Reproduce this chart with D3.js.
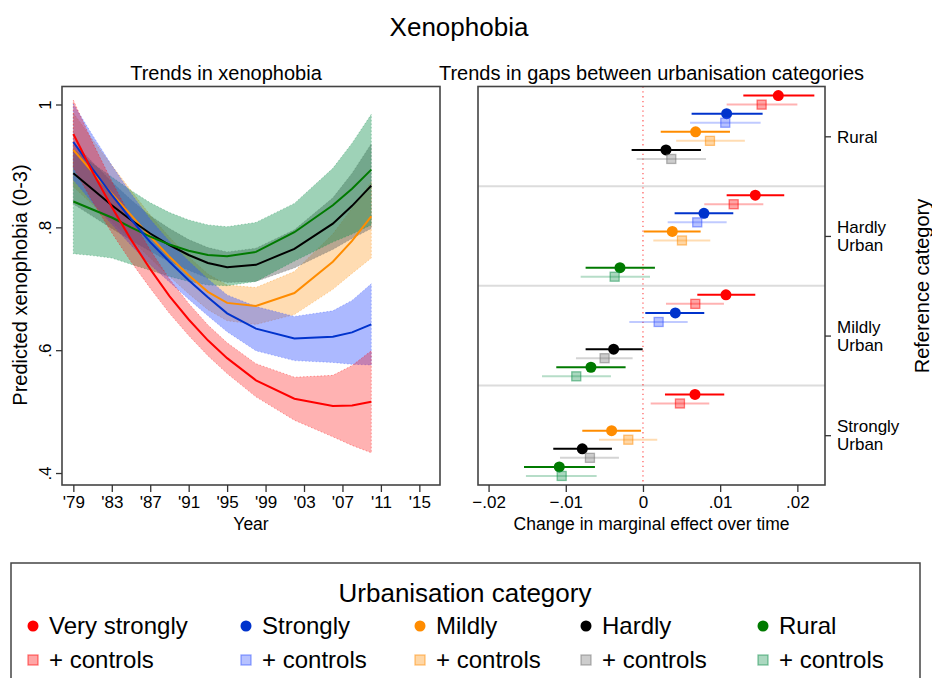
<!DOCTYPE html>
<html>
<head>
<meta charset="utf-8">
<script src="https://cdn.jsdelivr.net/npm/d3@7"></script>
<style>
  body { margin: 0; background: #fff; }
  svg text { font-family: "Liberation Sans", Arial, sans-serif; fill: #000; }
</style>
</head>
<body>
<svg width="932" height="678"></svg>
<script>
// ---- data: trends in xenophobia (predicted, 0-3 scale) ----
let years = [1979, 1981, 1983, 1985, 1987, 1989, 1991, 1993, 1995, 1998, 2002, 2006, 2008, 2010];
let yearTicks = [1979, 1983, 1987, 1991, 1995, 1999, 2003, 2007, 2011, 2015];
let levelTicks = [0.4, 0.6, 0.8, 1];

let vsMean = [0.952, 0.890, 0.833, 0.780, 0.732, 0.688, 0.650, 0.616, 0.587, 0.551, 0.521, 0.509, 0.510, 0.516];
let vsLo   = [0.897, 0.842, 0.791, 0.744, 0.701, 0.660, 0.624, 0.591, 0.562, 0.524, 0.486, 0.459, 0.445, 0.433];
let vsHi   = [1.007, 0.938, 0.875, 0.816, 0.763, 0.716, 0.676, 0.641, 0.612, 0.578, 0.556, 0.559, 0.575, 0.599];

let stMean = [0.939, 0.895, 0.853, 0.813, 0.776, 0.744, 0.714, 0.686, 0.660, 0.635, 0.619, 0.622, 0.629, 0.642];
let stLo   = [0.877, 0.840, 0.805, 0.771, 0.739, 0.711, 0.683, 0.656, 0.630, 0.599, 0.583, 0.580, 0.577, 0.576];
let stHi   = [1.001, 0.950, 0.901, 0.855, 0.813, 0.777, 0.745, 0.716, 0.690, 0.671, 0.655, 0.664, 0.681, 0.708];

let miMean = [0.926, 0.890, 0.855, 0.820, 0.785, 0.752, 0.722, 0.695, 0.677, 0.672, 0.693, 0.744, 0.778, 0.818];
let miLo   = [0.866, 0.837, 0.809, 0.780, 0.750, 0.720, 0.692, 0.666, 0.648, 0.642, 0.658, 0.699, 0.725, 0.750];
let miHi   = [0.986, 0.943, 0.901, 0.860, 0.820, 0.784, 0.752, 0.724, 0.706, 0.702, 0.728, 0.789, 0.831, 0.874];

let haMean = [0.888, 0.862, 0.836, 0.812, 0.790, 0.771, 0.755, 0.742, 0.735, 0.739, 0.765, 0.806, 0.835, 0.868];
let haLo   = [0.838, 0.818, 0.798, 0.779, 0.761, 0.744, 0.730, 0.717, 0.710, 0.712, 0.734, 0.764, 0.782, 0.798];
let haHi   = [0.938, 0.906, 0.874, 0.845, 0.819, 0.798, 0.780, 0.767, 0.760, 0.766, 0.796, 0.848, 0.888, 0.936];

let ruMean = [0.842, 0.829, 0.816, 0.800, 0.785, 0.772, 0.762, 0.755, 0.753, 0.760, 0.792, 0.836, 0.863, 0.894];
let ruLo   = [0.757, 0.754, 0.750, 0.740, 0.730, 0.720, 0.712, 0.706, 0.705, 0.712, 0.745, 0.776, 0.789, 0.804];
let ruHi   = [0.927, 0.904, 0.882, 0.860, 0.840, 0.824, 0.812, 0.804, 0.801, 0.808, 0.839, 0.896, 0.937, 0.984];

// ---- data: change in marginal effect over time (gaps vs reference category) ----
let seriesNames = ["Very strongly", "Strongly", "Mildly", "Hardly", "Rural"];
let gapGroups = ["Rural", "Hardly Urban", "Mildly Urban", "Strongly Urban"];
let gapTicks = [-0.02, -0.01, 0, 0.01, 0.02];

// rows = reference category, columns = series (null = the reference itself)
let gapBase = [
  [0.01753, 0.01084, 0.00682, 0.00298, null],
  [0.01455, 0.00790, 0.00380, null, -0.00298],
  [0.01075, 0.00419, null, -0.00380, -0.00674],
  [0.00674, null, -0.00406, -0.00786, -0.01084]
];
let gapBaseLo = [
  [0.01300, 0.00630, 0.00230, -0.00147, null],
  [0.01084, 0.00410, 0.00010, null, -0.00743],
  [0.00704, 0.00030, null, -0.00743, -0.01123],
  [0.00285, null, -0.00786, -0.01162, -0.01541]
];
let gapBaseHi = [
  [0.02220, 0.01550, 0.01127, 0.00751, null],
  [0.01830, 0.01170, 0.00747, null, 0.00155],
  [0.01455, 0.00794, null, -0.00004, -0.00225],
  [0.01053, null, -0.00026, -0.00402, -0.00622]
];
let gapCtrl = [
  [0.01537, 0.01066, 0.00868, 0.00367, null],
  [0.01175, 0.00703, 0.00505, null, -0.00367],
  [0.00678, 0.00203, null, -0.00497, -0.00864],
  [0.00479, null, -0.00190, -0.00687, -0.01053]
];
let gapCtrlLo = [
  [0.01084, 0.00610, 0.00430, -0.00082, null],
  [0.00794, 0.00320, 0.00134, null, -0.00807],
  [0.00298, -0.00177, null, -0.00868, -0.01308],
  [0.00100, null, -0.00570, -0.01075, -0.01516]
];
let gapCtrlHi = [
  [0.02000, 0.01524, 0.01320, 0.00816, null],
  [0.01559, 0.01084, 0.00872, null, 0.00091],
  [0.01049, 0.00579, null, -0.00134, -0.00415],
  [0.00859, null, 0.00185, -0.00311, -0.00600]
];

// ---- styles ----
let lineColors = ["#ff0000", "#0033cc", "#ff8c00", "#000000", "#007a00"];
let bandColors = ["#ff0000", "#3050ff", "#ff8c00", "#707070", "#0d8f4a"];
let bandOpacity = [0.3, 0.4, 0.3, 0.5, 0.4];
let bandOrder = [2, 3, 4, 1, 0];

let svg = d3.select("svg");
svg.append("rect").attr("width", 932).attr("height", 678).attr("fill", "#fff");

svg.append("text")
    .attr("x", 459).attr("y", 36)
    .attr("text-anchor", "middle")
    .style("font-size", "26px")
    .text("Xenophobia");

function styleAxis(g, size) {
  g.attr("font-family", null).attr("font-size", null);
  g.select(".domain").remove();
  g.selectAll(".tick line").attr("stroke", "#333").attr("stroke-width", 1.3);
  g.selectAll(".tick text").attr("fill", "#000").style("font-size", size + "px");
}

// ================= left panel =================
let L = {left: 62, right: 440, top: 86.5, bottom: 485};

let x = d3.scaleLinear().domain([1977.82, 2017.15]).range([L.left, L.right]);
let y = d3.scaleLinear().domain([0.3805, 1.0293]).range([L.bottom, L.top]);

let series = [
  {mean: vsMean, lo: vsLo, hi: vsHi},
  {mean: stMean, lo: stLo, hi: stHi},
  {mean: miMean, lo: miLo, hi: miHi},
  {mean: haMean, lo: haLo, hi: haHi},
  {mean: ruMean, lo: ruLo, hi: ruHi}
];

let area = d3.area()
    .x(function(d, i) { return x(years[i]); })
    .y0(function(d) { return y(d[0]); })
    .y1(function(d) { return y(d[1]); });

let line = d3.line()
    .x(function(d, i) { return x(years[i]); })
    .y(function(d) { return y(d); });

let gBands = svg.append("g");
bandOrder.forEach(function(k) {
  let s = series[k];
  let pts = years.map(function(yr, i) { return [s.lo[i], s.hi[i]]; });
  gBands.append("path")
      .attr("d", area(pts))
      .attr("fill", bandColors[k])
      .attr("fill-opacity", bandOpacity[k])
      .attr("stroke", bandColors[k])
      .attr("stroke-opacity", 0.35)
      .attr("stroke-width", 1)
      .attr("stroke-dasharray", "1.5,2");
});

let gLines = svg.append("g");
[2, 3, 4, 1, 0].forEach(function(k) {
  gLines.append("path")
      .attr("d", line(series[k].mean))
      .attr("fill", "none")
      .attr("stroke", lineColors[k])
      .attr("stroke-width", 2);
});

svg.append("rect")
    .attr("x", L.left).attr("y", L.top)
    .attr("width", L.right - L.left).attr("height", L.bottom - L.top)
    .attr("fill", "none").attr("stroke", "#444").attr("stroke-width", 1.6);

let xAxisL = d3.axisBottom(x)
    .tickValues(yearTicks)
    .tickFormat(function(d) { return "'" + String(d).slice(2); })
    .tickSize(7).tickPadding(4);
let gxL = svg.append("g").attr("transform", "translate(0," + L.bottom + ")").call(xAxisL);
styleAxis(gxL, 17);

let yAxisL = d3.axisLeft(y)
    .tickValues(levelTicks)
    .tickFormat(function(d) { return d === 1 ? "1" : d3.format(".1f")(d).replace(/^0/, ""); })
    .tickSize(6);
let gyL = svg.append("g").attr("transform", "translate(" + L.left + ",0)").call(yAxisL);
styleAxis(gyL, 17);
gyL.selectAll(".tick text")
    .attr("transform", "rotate(-90)")
    .attr("x", 0).attr("y", -11).attr("dy", null)
    .attr("text-anchor", "middle");

svg.append("text")
    .attr("transform", "translate(27,285) rotate(-90)")
    .attr("text-anchor", "middle")
    .style("font-size", "20px")
    .text("Predicted xenophobia (0-3)");

svg.append("text")
    .attr("x", (L.left + L.right) / 2).attr("y", 530)
    .attr("text-anchor", "middle")
    .style("font-size", "17.5px")
    .text("Year");

svg.append("text")
    .attr("x", 226).attr("y", 80)
    .attr("text-anchor", "middle")
    .style("font-size", "20px")
    .text("Trends in xenophobia");

// ================= right panel =================
let R = {left: 478, right: 825, top: 86.5, bottom: 485};

let xR = d3.scaleLinear().domain([-0.02137, 0.02358]).range([R.left, R.right]);
let slot = d3.scaleLinear().domain([-1, 43]).range([R.top, R.bottom]);

let gR = svg.append("g");

// separators between reference categories
gR.selectAll("line.sep")
    .data([10, 21, 32])
    .enter().append("line")
    .attr("x1", R.left).attr("x2", R.right)
    .attr("y1", function(d) { return slot(d); })
    .attr("y2", function(d) { return slot(d); })
    .attr("stroke", "#dcdcdc").attr("stroke-width", 2);

gR.append("line")
    .attr("x1", xR(0)).attr("x2", xR(0))
    .attr("y1", R.top).attr("y2", R.bottom)
    .attr("stroke", "#ff3030").attr("stroke-opacity", 0.75)
    .attr("stroke-width", 1.3).attr("stroke-dasharray", "1.3,3.5");

let rows = [];
gapGroups.forEach(function(gName, g) {
  seriesNames.forEach(function(sName, s) {
    if (gapBase[g][s] === null) return;
    rows.push({k: s, type: "base", v: gapBase[g][s], lo: gapBaseLo[g][s], hi: gapBaseHi[g][s], pos: g * 11 + 2 * s});
    rows.push({k: s, type: "ctrl", v: gapCtrl[g][s], lo: gapCtrlLo[g][s], hi: gapCtrlHi[g][s], pos: g * 11 + 2 * s + 1});
  });
});

gR.selectAll("line.ci")
    .data(rows)
    .enter().append("line")
    .attr("class", "ci")
    .attr("x1", function(d) { return xR(d.lo); })
    .attr("x2", function(d) { return xR(d.hi); })
    .attr("y1", function(d) { return slot(d.pos); })
    .attr("y2", function(d) { return slot(d.pos); })
    .attr("stroke", function(d) { return d.type === "base" ? lineColors[d.k] : bandColors[d.k]; })
    .attr("stroke-opacity", function(d) { return d.type === "base" ? 1 : 0.3; })
    .attr("stroke-width", 2);

gR.selectAll("circle.est")
    .data(rows.filter(function(d) { return d.type === "base"; }))
    .enter().append("circle")
    .attr("cx", function(d) { return xR(d.v); })
    .attr("cy", function(d) { return slot(d.pos); })
    .attr("r", 5.5)
    .attr("fill", function(d) { return lineColors[d.k]; });

gR.selectAll("rect.est")
    .data(rows.filter(function(d) { return d.type === "ctrl"; }))
    .enter().append("rect")
    .attr("x", function(d) { return xR(d.v) - 4.5; })
    .attr("y", function(d) { return slot(d.pos) - 4.5; })
    .attr("width", 9).attr("height", 9)
    .attr("fill", function(d) { return bandColors[d.k]; })
    .attr("fill-opacity", 0.35)
    .attr("stroke", function(d) { return bandColors[d.k]; })
    .attr("stroke-opacity", 0.5)
    .attr("stroke-width", 1.3);

svg.append("rect")
    .attr("x", R.left).attr("y", R.top)
    .attr("width", R.right - R.left).attr("height", R.bottom - R.top)
    .attr("fill", "none").attr("stroke", "#444").attr("stroke-width", 1.6);

let xAxisR = d3.axisBottom(xR)
    .tickValues(gapTicks)
    .tickFormat(function(d) { return d === 0 ? "0" : d3.format(".2f")(d).replace("0.", "."); })
    .tickSize(7).tickPadding(4);
let gxR = svg.append("g").attr("transform", "translate(0," + R.bottom + ")").call(xAxisR);
styleAxis(gxR, 17);

let groupPos = gapGroups.map(function(d, g) { return g * 11 + 4.5; });
let yAxisR = d3.axisRight(slot).tickValues(groupPos).tickFormat("").tickSize(6);
let gyR = svg.append("g").attr("transform", "translate(" + R.right + ",0)").call(yAxisR);
styleAxis(gyR, 17);

// group labels, two-word names wrapped on two lines
gapGroups.forEach(function(name, g) {
  let parts = name.split(" ");
  let yc = slot(groupPos[g]);
  let offsets = parts.length === 1 ? [6.5] : [-3, 15];
  parts.forEach(function(p, j) {
    svg.append("text")
        .attr("x", R.right + 12)
        .attr("y", yc + offsets[j])
        .style("font-size", "17px")
        .text(p);
  });
});

svg.append("text")
    .attr("transform", "translate(929,286) rotate(-90)")
    .attr("text-anchor", "middle")
    .style("font-size", "20px")
    .text("Reference category");

svg.append("text")
    .attr("x", (R.left + R.right) / 2).attr("y", 530)
    .attr("text-anchor", "middle")
    .style("font-size", "17.5px")
    .text("Change in marginal effect over time");

svg.append("text")
    .attr("x", (R.left + R.right) / 2).attr("y", 80)
    .attr("text-anchor", "middle")
    .style("font-size", "20px")
    .text("Trends in gaps between urbanisation categories");

// ================= legend =================
let legendX = [33, 246, 420, 586, 763];
let lg = svg.append("g");
lg.append("rect")
    .attr("x", 11).attr("y", 563).attr("width", 909).attr("height", 140)
    .attr("fill", "none").attr("stroke", "#444").attr("stroke-width", 1.5);
lg.append("text")
    .attr("x", 465).attr("y", 602)
    .attr("text-anchor", "middle")
    .style("font-size", "26px")
    .text("Urbanisation category");

seriesNames.forEach(function(name, k) {
  lg.append("circle")
      .attr("cx", legendX[k]).attr("cy", 626).attr("r", 5.5)
      .attr("fill", lineColors[k]);
  lg.append("text")
      .attr("x", legendX[k] + 16).attr("y", 634)
      .style("font-size", "24px")
      .text(name);
  lg.append("rect")
      .attr("x", legendX[k] - 5).attr("y", 655).attr("width", 10).attr("height", 10)
      .attr("fill", bandColors[k]).attr("fill-opacity", 0.35)
      .attr("stroke", bandColors[k]).attr("stroke-opacity", 0.5).attr("stroke-width", 1.3);
  lg.append("text")
      .attr("x", legendX[k] + 16).attr("y", 668)
      .style("font-size", "24px")
      .text("+ controls");
});
</script>
</body>
</html>
